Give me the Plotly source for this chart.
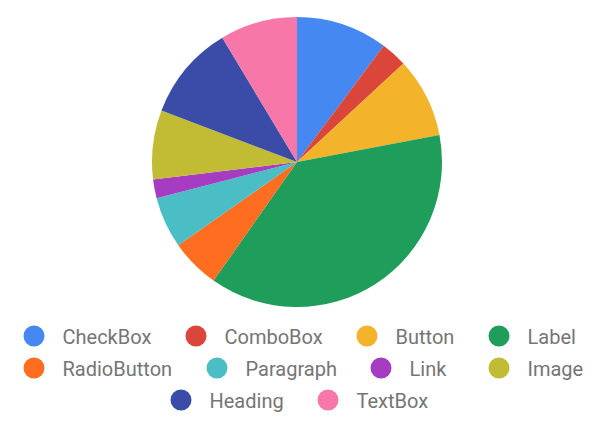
import plotly.graph_objects as go

# slice shares (percent of whole)
components = ["CheckBox", "ComboBox", "Button", "Label", "RadioButton",
              "Paragraph", "Link", "Image", "Heading", "TextBox"]
shares = [10.2, 2.9, 8.9, 37.7, 5.5, 5.7, 2.1, 7.7, 10.6, 8.6]
colors = ["#4688f1", "#da4639", "#f3b32b", "#1f9d5a", "#ff6d21",
          "#4bbdc5", "#a63cc1", "#c1bc33", "#3a4ca8", "#f778a8"]

# where each legend dot sits in the reference (px from left, px from top)
legend_dot_x = [34, 196, 367, 499, 34, 217, 381, 499, 181, 328]
legend_dot_y = [336, 336, 336, 336, 368, 368, 368, 368, 400, 400]

W, H = 592, 430

fig = go.Figure()
fig.add_trace(go.Pie(
    labels=components,
    values=shares,
    sort=False,
    direction="clockwise",
    rotation=0,
    marker=dict(colors=colors, line=dict(width=0)),
    textinfo="none",
    hoverinfo="skip",
    showlegend=False,
    domain=dict(x=[0, 1], y=[0, 1]),
))

# one legend per entry so every dot can sit where the reference has it
legends = {}
for i, (name, c) in enumerate(zip(components, colors)):
    lname = "legend" if i == 0 else f"legend{i + 1}"
    fig.add_trace(go.Scatter(
        x=[None], y=[None], mode="markers", name=name, legend=lname,
        hoverinfo="skip",
        marker=dict(symbol="circle", size=16, color=c,
                    line=dict(color=c, width=5)),
    ))
    legends[lname] = dict(
        orientation="h", xref="container", yref="container",
        x=(legend_dot_x[i] - 28.5) / W, y=1 - legend_dot_y[i] / H,
        xanchor="left", yanchor="middle", itemwidth=47,
        font=dict(family="Roboto", size=20, color="#757575"),
        bgcolor="rgba(0,0,0,0)", itemclick=False, itemdoubleclick=False,
    )

fig.update_layout(
    width=W, height=H,
    margin=dict(l=2, r=0, t=17, b=123, autoexpand=False),
    paper_bgcolor="white", plot_bgcolor="white",
    xaxis=dict(visible=False), yaxis=dict(visible=False),
    hovermode=False,
    **legends,
)

# drop the browser's default 8px body margin so the chart sits at 0,0
fig.write_html(
    "out.html",
    config={"displayModeBar": False},
    post_script="document.body.style.margin = '0';",
)
